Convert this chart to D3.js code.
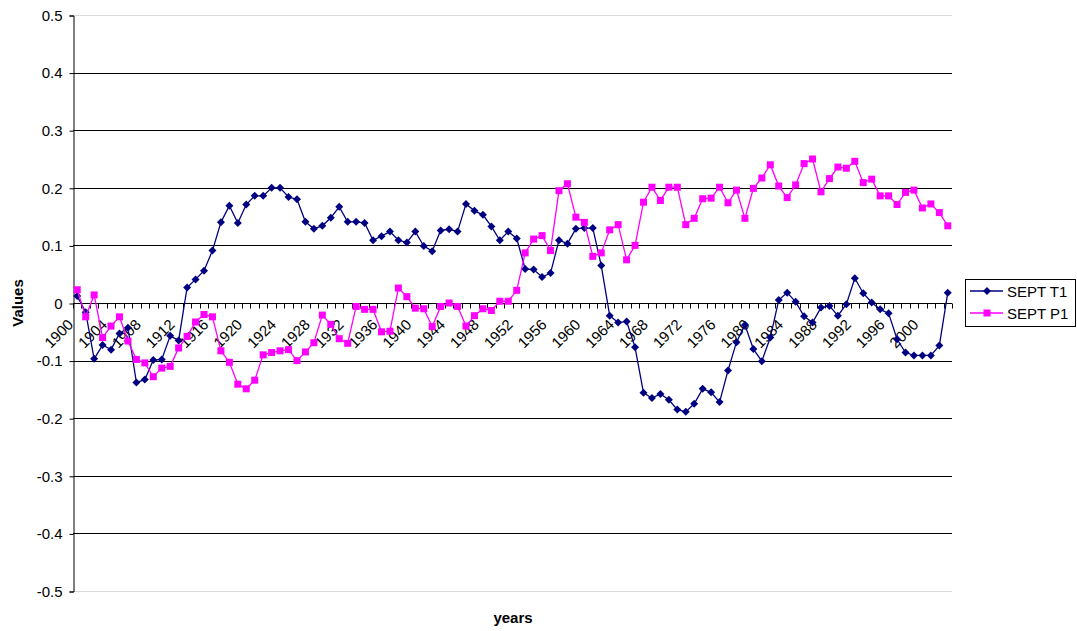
<!DOCTYPE html>
<html>
<head>
<meta charset="utf-8">
<script src="https://cdn.jsdelivr.net/npm/d3@7"></script>
<style>
  html, body { margin: 0; padding: 0; background: #fff; }
  svg { display: block; font-family: "Liberation Sans", Arial, sans-serif; }
</style>
</head>
<body>
<svg id="chart" width="1077" height="631"></svg>
<script>
// Years on the category axis
const years = d3.range(1900, 2004);

// SEPT T1 series, one value per year 1900-2003
const septT1 = [
  0.012, -0.016, -0.097, -0.073, -0.081, -0.053, -0.043, -0.138, -0.133, -0.099,
  -0.098, -0.057, -0.065, 0.027, 0.041, 0.056, 0.091, 0.140, 0.169, 0.139,
  0.171, 0.186, 0.186, 0.200, 0.200, 0.184, 0.180, 0.141, 0.129, 0.134,
  0.148, 0.167, 0.141, 0.141, 0.139, 0.109, 0.116, 0.124, 0.109, 0.105,
  0.124, 0.099, 0.090, 0.126, 0.128, 0.124, 0.172, 0.160, 0.153, 0.133,
  0.109, 0.124, 0.112, 0.059, 0.058, 0.045, 0.052, 0.109, 0.103, 0.129,
  0.130, 0.130, 0.065, -0.022, -0.034, -0.032, -0.077, -0.156, -0.165, -0.158,
  -0.168, -0.185, -0.189, -0.175, -0.149, -0.155, -0.172, -0.117, -0.068, -0.038,
  -0.080, -0.101, -0.060, 0.005, 0.018, 0.002, -0.023, -0.034, -0.008, -0.005,
  -0.022, -0.002, 0.043, 0.017, 0.001, -0.011, -0.018, -0.063, -0.086, -0.091,
  -0.091, -0.091, -0.074, 0.018
];

// SEPT P1 series, one value per year 1900-2003
const septP1 = [
  0.023, -0.024, 0.014, -0.060, -0.040, -0.024, -0.066, -0.098, -0.104, -0.128,
  -0.113, -0.110, -0.078, -0.058, -0.033, -0.020, -0.024, -0.083, -0.103, -0.141,
  -0.149, -0.134, -0.090, -0.086, -0.083, -0.081, -0.100, -0.085, -0.069, -0.021,
  -0.037, -0.062, -0.070, -0.006, -0.011, -0.011, -0.050, -0.049, 0.026, 0.011,
  -0.009, -0.010, -0.041, -0.006, 0.000, -0.006, -0.040, -0.022, -0.010, -0.013,
  0.003, 0.003, 0.022, 0.087, 0.111, 0.117, 0.091, 0.195, 0.207, 0.149,
  0.140, 0.081, 0.087, 0.127, 0.136, 0.075, 0.100, 0.175, 0.201, 0.178,
  0.201, 0.201, 0.136, 0.147, 0.181, 0.182, 0.201, 0.174, 0.196, 0.147,
  0.199, 0.217, 0.240, 0.203, 0.183, 0.205, 0.242, 0.250, 0.193, 0.216,
  0.236, 0.234, 0.246, 0.209, 0.215, 0.186, 0.186, 0.171, 0.192, 0.196,
  0.165, 0.172, 0.157, 0.134
];

// Value axis ticks
const yTicks = [0.5, 0.4, 0.3, 0.2, 0.1, 0, -0.1, -0.2, -0.3, -0.4, -0.5];
// Year labels shown every fourth category
const xLabelYears = years.filter(y => (y - 1900) % 4 === 0);

const seriesList = [
  { name: "SEPT T1", values: septT1, color: "#000080", marker: "diamond" },
  { name: "SEPT P1", values: septP1, color: "#FF00FF", marker: "square" }
];

const svg = d3.select("#chart");
const plot = { left: 73, right: 952, top: 15, bottom: 591 };

const x = d3.scaleBand().domain(years).range([plot.left, plot.right]).padding(0);
const y = d3.scaleLinear().domain([-0.5, 0.5]).range([plot.bottom, plot.top]);
const cx = d => x(d) + x.bandwidth() / 2;

// Plot area outline (light) along top and bottom
svg.append("g").selectAll("line").data([0.5, -0.5]).join("line")
  .attr("x1", plot.left).attr("x2", plot.right)
  .attr("y1", d => y(d) + 0.5).attr("y2", d => y(d) + 0.5)
  .attr("stroke", "#d9d9d9").attr("stroke-width", 1);

// Horizontal gridlines
svg.append("g").selectAll("line").data(yTicks.filter(t => Math.abs(t) < 0.5 && t !== 0)).join("line")
  .attr("x1", plot.left).attr("x2", plot.right)
  .attr("y1", d => Math.round(y(d)) + 0.5).attr("y2", d => Math.round(y(d)) + 0.5)
  .attr("stroke", "#000").attr("stroke-width", 1);

// Value axis (plain hyphen for negatives)
const yAxis = d3.axisLeft(y).tickValues(yTicks).tickSize(4).tickPadding(7)
  .tickFormat(d => d === 0 ? "0" : (d < 0 ? "-" : "") + Math.abs(d).toFixed(1));
const yg = svg.append("g").attr("transform", `translate(${plot.left + 0.5},0.5)`).call(yAxis);
yg.select(".domain").attr("stroke", "#000");
yg.selectAll(".tick line").attr("stroke", "#000");
yg.selectAll(".tick text").attr("font-size", 15).attr("fill", "#000")
  .attr("font-family", "Liberation Sans, Arial, sans-serif");

// Category axis crossing at zero, ticks at category boundaries
const zeroY = Math.round(y(0)) + 0.5;
const xg = svg.append("g");
xg.append("line").attr("x1", plot.left).attr("x2", plot.right)
  .attr("y1", zeroY).attr("y2", zeroY).attr("stroke", "#000");
const bounds = years.map(d => x(d)).concat([plot.right]);
xg.selectAll("line.tick").data(bounds).join("line").attr("class", "tick")
  .attr("x1", d => Math.round(d) + 0.5).attr("x2", d => Math.round(d) + 0.5)
  .attr("y1", zeroY).attr("y2", zeroY + 5).attr("stroke", "#000");
xg.selectAll("text").data(xLabelYears).join("text")
  .attr("transform", d => `translate(${cx(d) - 3},${zeroY + 22}) rotate(-45)`)
  .attr("text-anchor", "end")
  .attr("font-size", 15).attr("fill", "#000")
  .text(d => d);

// Series lines and markers
const line = d3.line().x((d, i) => cx(years[i])).y(d => y(d));
const diamond = s => `M0,${-s}L${s},0L0,${s}L${-s},0Z`;

seriesList.forEach(s => {
  const g = svg.append("g");
  g.append("path").datum(s.values).attr("d", line)
    .attr("fill", "none").attr("stroke", s.color).attr("stroke-width", 1.3);
  if (s.marker === "diamond") {
    g.selectAll("path.m").data(s.values).join("path").attr("class", "m")
      .attr("transform", (d, i) => `translate(${cx(years[i])},${y(d)})`)
      .attr("d", diamond(4)).attr("fill", s.color);
  } else {
    g.selectAll("rect").data(s.values).join("rect")
      .attr("x", (d, i) => cx(years[i]) - 3.5).attr("y", d => y(d) - 3.5)
      .attr("width", 7).attr("height", 7).attr("fill", s.color);
  }
});

// Axis titles
svg.append("text").attr("x", 513).attr("y", 623).attr("text-anchor", "middle")
  .attr("font-size", 15).attr("font-weight", "bold").text("years");
svg.append("text").attr("transform", `translate(23,${y(0)}) rotate(-90)`)
  .attr("text-anchor", "middle").attr("font-size", 15).attr("font-weight", "bold").text("Values");

// Legend
const lg = svg.append("g");
lg.append("rect").attr("x", 965.5).attr("y", 279.5).attr("width", 110).attr("height", 47)
  .attr("fill", "#fff").attr("stroke", "#000");
seriesList.forEach((s, i) => {
  const ly = 291 + i * 22;
  lg.append("line").attr("x1", 970).attr("x2", 1003).attr("y1", ly).attr("y2", ly)
    .attr("stroke", s.color).attr("stroke-width", 1.3);
  if (s.marker === "diamond") {
    lg.append("path").attr("transform", `translate(987,${ly})`).attr("d", diamond(4)).attr("fill", s.color);
  } else {
    lg.append("rect").attr("x", 983.5).attr("y", ly - 3.5).attr("width", 7).attr("height", 7).attr("fill", s.color);
  }
  lg.append("text").attr("x", 1007).attr("y", ly + 5.5).attr("font-size", 15).text(s.name);
});
</script>
</body>
</html>
